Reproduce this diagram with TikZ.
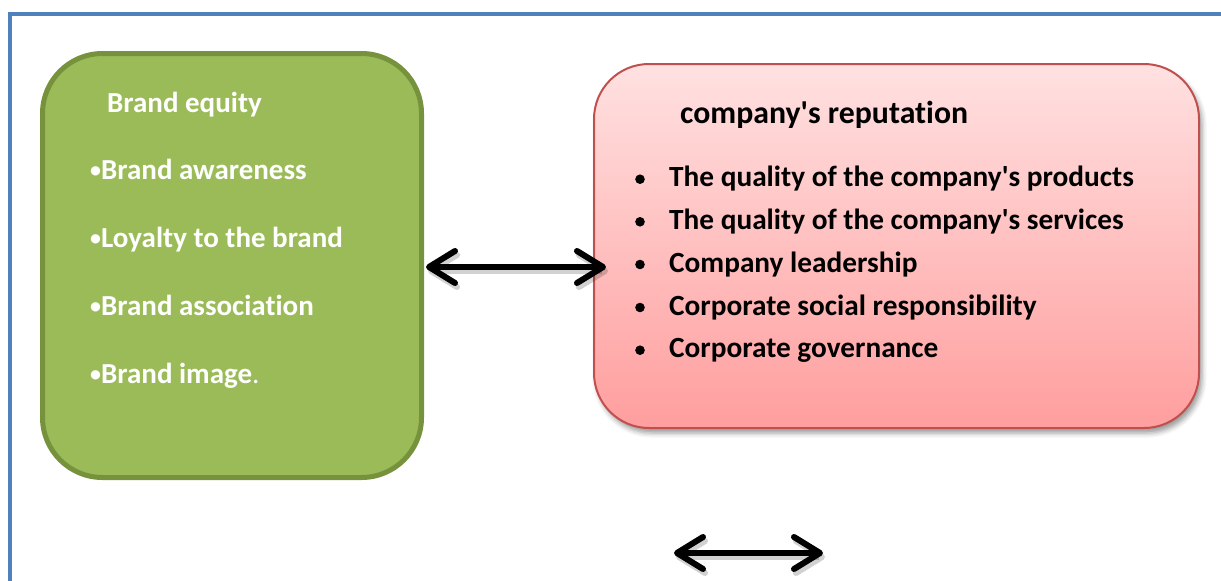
\documentclass[tikz,border=0pt]{standalone}
\usepackage{fontspec}
\setmainfont{Carlito}[Ligatures={NoCommon}]
\usetikzlibrary{arrows.meta,shadows.blur}
\definecolor{frameblue}{HTML}{4F81BD}
\definecolor{greenfill}{HTML}{9BBB59}
\definecolor{greenline}{HTML}{76923C}
\definecolor{pinktop}{HTML}{FFE1E1}
\definecolor{pinkbot}{HTML}{FF9E9E}
\definecolor{redline}{HTML}{C0504D}
\newcommand{\apos}{\textquotesingle}
\newcommand{\smallbul}{\raisebox{1.5pt}{\fontsize{22}{22}\selectfont •}}
\tikzset{
  x=1pt, y=-1pt,
  equitybox/.style={draw=greenline, line width=5pt, fill=greenfill, rounded corners=60pt},
  repbox/.style={draw=redline, line width=2pt, top color=pinktop, bottom color=pinkbot,
    rounded corners=55pt,
    blur shadow={shadow xshift=3pt, shadow yshift=-5pt, shadow blur radius=5pt, shadow opacity=40}},
  wtext/.style={anchor=base west, inner sep=0pt, text=white, font=\fontsize{29}{32}\selectfont\bfseries},
  btext/.style={anchor=base west, inner sep=0pt, text=black, font=\fontsize{29.3}{32}\selectfont\bfseries},
  twoway/.style={line width=6pt, {Straight Barb[length=26pt,width=32pt,round]}-{Straight Barb[length=26pt,width=32pt,round]}},
  twowayshade/.style={twoway, black, opacity=0.18},
}
\begin{document}
\begin{tikzpicture}
\useasboundingbox (0,0) rectangle (1221,581);
% outer frame, running past the right and bottom edges
\draw[frameblue, line width=4pt] (10,620) -- (10,14) -- (1260,14);

% brand equity box
\draw[equitybox] (42.5,53.5) rectangle (421.5,477.5);
\node[wtext] (eqtitle) at (107,112) {Brand equity};
\node[wtext] (eq1) at (90,179) {\smallbul Brand awareness};
\node[wtext] (eq2) at (90,247) {\smallbul Loyalty to the brand};
\node[wtext] (eq3) at (90,315) {\smallbul Brand association};
\node[wtext] (eq4) at (90,383) {\smallbul Brand image{\mdseries .}};

% company reputation box
\draw[repbox] (594,64) rectangle (1199,428);
\node[btext, font=\fontsize{31.8}{34}\selectfont\bfseries] (reptitle) at (680,123.3) {company\apos s reputation};
\foreach \y/\t [count=\i] in {186.7/The quality of the company\apos s products,
                   229.3/The quality of the company\apos s services,
                   272/Company leadership,
                   315/Corporate social responsibility,
                   357.7/Corporate governance}{
  \fill (640,\y-7.5) circle (4.8pt);
  \node[btext] (rep\i) at (669,\y) {\t};
}

% two-way links
\coordinate (aL) at (426,267);
\coordinate (aR) at (606,267);
\coordinate (bL) at (674,553);
\coordinate (bR) at (823,553);
\draw[twowayshade, transform canvas={xshift=2pt, yshift=-4pt}] (aL) -- (aR);
\draw[twowayshade, transform canvas={xshift=2pt, yshift=-4pt}] (bL) -- (bR);
\draw[twoway] (aL) -- (aR);
\draw[twoway] (bL) -- (bR);
\end{tikzpicture}
\end{document}
